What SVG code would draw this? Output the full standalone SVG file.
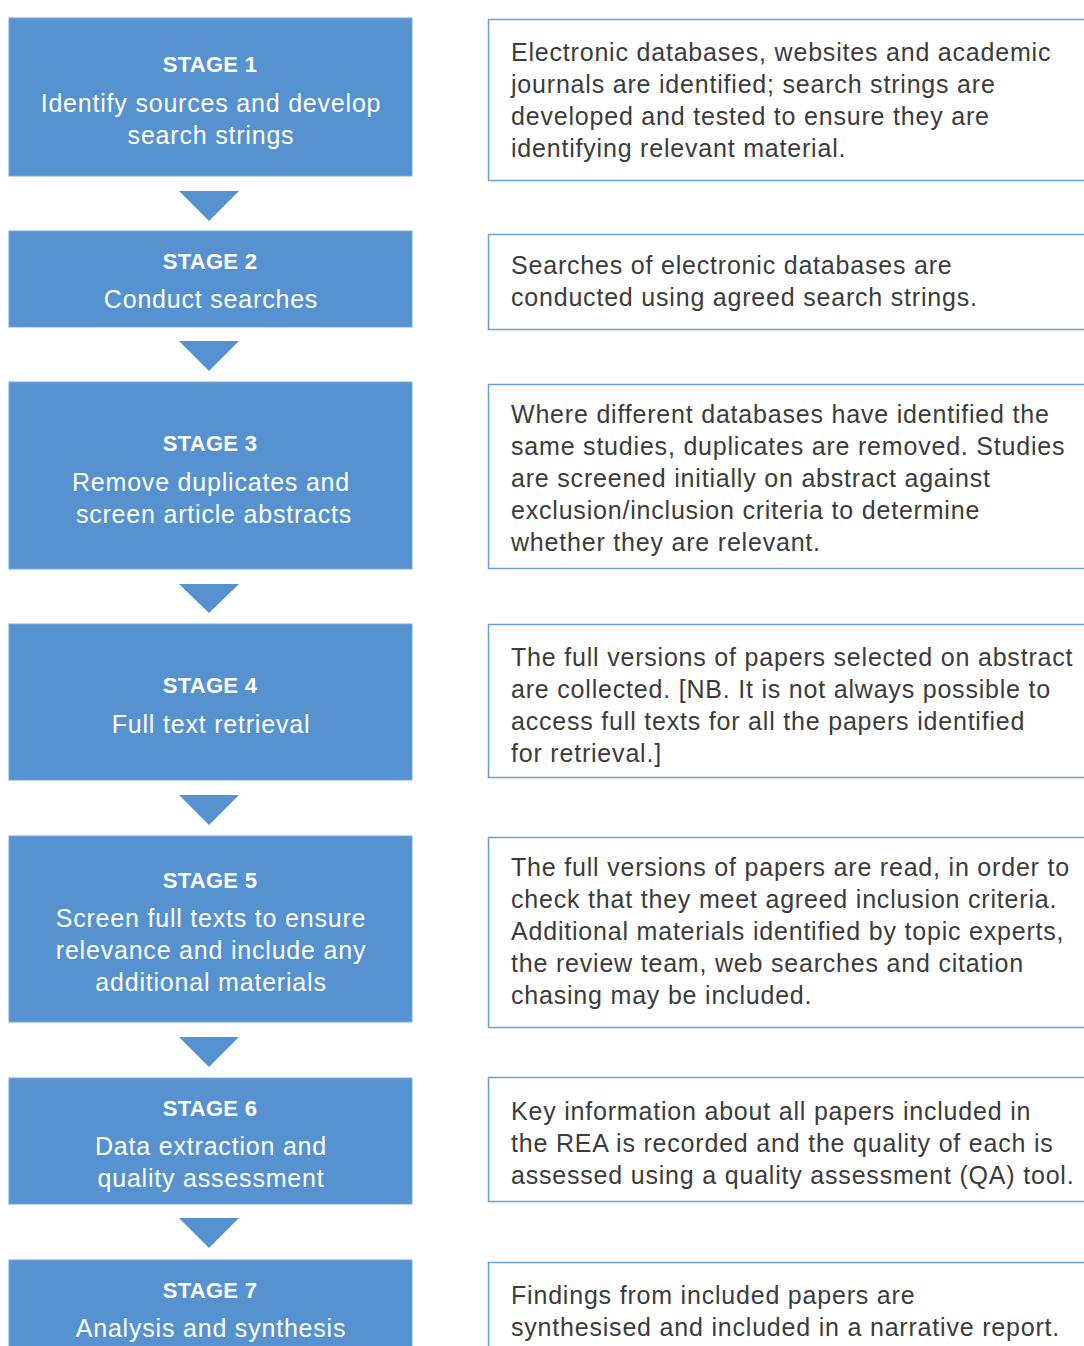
<svg xmlns="http://www.w3.org/2000/svg" width="1084" height="1346" viewBox="0 0 1084 1346">
<style>
.stage{fill:#5592cf;stroke:#7aa8da;stroke-width:1}
.desc{fill:#ffffff;stroke:#6a9fd6;stroke-width:1.5}
.arrow{fill:#5592cf}
text{font-family:"Liberation Sans",Arial,sans-serif;font-size:25px;letter-spacing:0.8px}
.st{fill:#ffffff;text-anchor:middle}
.sh{fill:#ffffff;text-anchor:middle;font-weight:bold;font-size:22px;letter-spacing:0.3px}
.dt{fill:#3b3b3b}
</style>
<rect width="1084" height="1346" fill="#ffffff"/>
<g id="connectors">
<polygon class="arrow" points="179,191 239,191 209,221"/>
<polygon class="arrow" points="179,341 239,341 209,371"/>
<polygon class="arrow" points="179,584 239,584 209,613"/>
<polygon class="arrow" points="179,795 239,795 209,825"/>
<polygon class="arrow" points="179,1037 239,1037 209,1067"/>
<polygon class="arrow" points="179,1218 239,1218 209,1248"/>
</g>
<g id="stage1">
<rect class="stage" x="9" y="18" width="403" height="158"/>
<text class="sh" x="210" y="72">STAGE 1</text>
<text class="st" x="211" y="112">Identify sources and develop</text>
<text class="st" x="211" y="144">search strings</text>
</g>
<g id="stage2">
<rect class="stage" x="9" y="231" width="403" height="96"/>
<text class="sh" x="210" y="269">STAGE 2</text>
<text class="st" x="211" y="308">Conduct searches</text>
</g>
<g id="stage3">
<rect class="stage" x="9" y="382" width="403" height="187"/>
<text class="sh" x="210" y="451">STAGE 3</text>
<text class="st" x="211" y="491">Remove duplicates and</text>
<text class="st" x="214" y="523">screen article abstracts</text>
</g>
<g id="stage4">
<rect class="stage" x="9" y="624" width="403" height="156"/>
<text class="sh" x="210" y="693">STAGE 4</text>
<text class="st" x="211" y="733">Full text retrieval</text>
</g>
<g id="stage5">
<rect class="stage" x="9" y="836" width="403" height="186"/>
<text class="sh" x="210" y="888">STAGE 5</text>
<text class="st" x="211" y="927">Screen full texts to ensure</text>
<text class="st" x="211" y="959">relevance and include any</text>
<text class="st" x="211" y="991">additional materials</text>
</g>
<g id="stage6">
<rect class="stage" x="9" y="1078" width="403" height="126"/>
<text class="sh" x="210" y="1116">STAGE 6</text>
<text class="st" x="211" y="1155">Data extraction and</text>
<text class="st" x="211" y="1187">quality assessment</text>
</g>
<g id="stage7">
<rect class="stage" x="9" y="1260" width="403" height="100"/>
<text class="sh" x="210" y="1298">STAGE 7</text>
<text class="st" x="211" y="1337">Analysis and synthesis</text>
</g>
<g id="desc1">
<rect class="desc" x="488.5" y="19.5" width="610" height="161"/>
<text class="dt" x="511" y="61">Electronic databases, websites and academic</text>
<text class="dt" x="511" y="93">journals are identified; search strings are</text>
<text class="dt" x="511" y="125">developed and tested to ensure they are</text>
<text class="dt" x="511" y="157">identifying relevant material.</text>
</g>
<g id="desc2">
<rect class="desc" x="488.5" y="234.5" width="610" height="95"/>
<text class="dt" x="511" y="274">Searches of electronic databases are</text>
<text class="dt" x="511" y="306">conducted using agreed search strings.</text>
</g>
<g id="desc3">
<rect class="desc" x="488.5" y="384.5" width="610" height="184"/>
<text class="dt" x="511" y="423">Where different databases have identified the</text>
<text class="dt" x="511" y="455">same studies, duplicates are removed. Studies</text>
<text class="dt" x="511" y="487">are screened initially on abstract against</text>
<text class="dt" x="511" y="519">exclusion/inclusion criteria to determine</text>
<text class="dt" x="511" y="551">whether they are relevant.</text>
</g>
<g id="desc4">
<rect class="desc" x="488.5" y="624.5" width="610" height="153"/>
<text class="dt" x="511" y="666">The full versions of papers selected on abstract</text>
<text class="dt" x="511" y="698">are collected. [NB. It is not always possible to</text>
<text class="dt" x="511" y="730">access full texts for all the papers identified</text>
<text class="dt" x="511" y="762">for retrieval.]</text>
</g>
<g id="desc5">
<rect class="desc" x="488.5" y="837.5" width="610" height="190"/>
<text class="dt" x="511" y="876">The full versions of papers are read, in order to</text>
<text class="dt" x="511" y="908">check that they meet agreed inclusion criteria.</text>
<text class="dt" x="511" y="940">Additional materials identified by topic experts,</text>
<text class="dt" x="511" y="972">the review team, web searches and citation</text>
<text class="dt" x="511" y="1004">chasing may be included.</text>
</g>
<g id="desc6">
<rect class="desc" x="488.5" y="1077.5" width="610" height="124"/>
<text class="dt" x="511" y="1120">Key information about all papers included in</text>
<text class="dt" x="511" y="1152">the REA is recorded and the quality of each is</text>
<text class="dt" x="511" y="1184">assessed using a quality assessment (QA) tool.</text>
</g>
<g id="desc7">
<rect class="desc" x="488.5" y="1262.5" width="610" height="100"/>
<text class="dt" x="511" y="1304">Findings from included papers are</text>
<text class="dt" x="511" y="1336">synthesised and included in a narrative report.</text>
</g>
</svg>
